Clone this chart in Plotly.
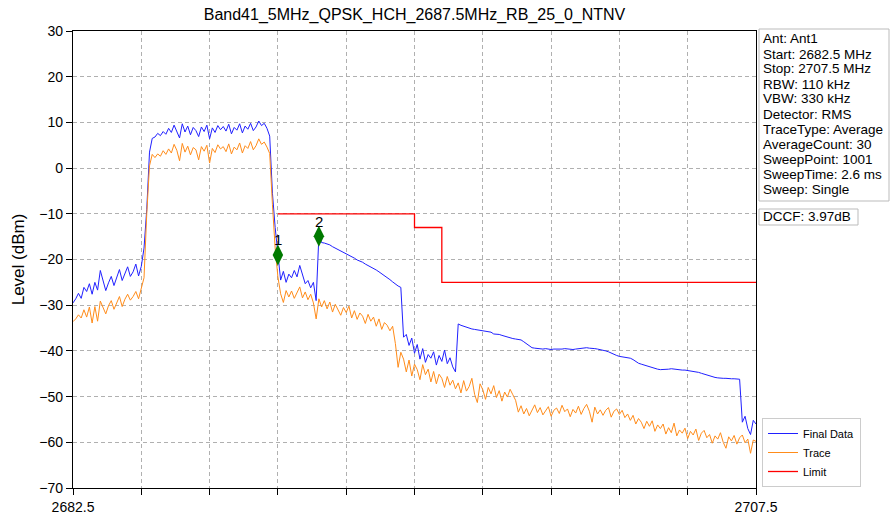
import numpy as np
import plotly.graph_objects as go

title_text = "Band41_5MHz_QPSK_HCH_2687.5MHz_RB_25_0_NTNV"
start_mhz = 2682.5
step_mhz = 0.1

final_data = [
    -29.5, -28.6, -27.4, -28.5, -26.1, -27.0, -25.3, -27.6, -25.0, -26.7,
    -22.4, -24.9, -26.8, -25.1, -23.7, -25.7, -24.1, -22.2, -24.6, -23.1,
    -21.6, -23.7, -22.7, -21.0, -23.6, -21.5,
    -17.5, -9.0, 3.5, 6.5,
    6.8, 7.6, 7.1, 8.0, 7.4, 8.7, 7.8, 9.4, 8.1, 6.6,
    9.7, 7.9, 9.2, 7.3, 8.9, 8.2, 6.9, 9.0, 8.0, 9.4,
    6.4, 8.8, 7.8, 9.3, 8.4, 9.1, 8.1, 9.6, 7.5, 8.9,
    8.3, 9.7, 7.7, 9.2, 8.5, 9.8, 8.2, 9.0, 10.3, 9.3,
    9.8, 8.7, 7.0,
    -5.5, -13.0, -19.0,
    -24.5, -22.6, -25.0, -23.2, -24.0, -22.4, -23.8, -21.3, -23.5, -25.3,
    -24.6, -26.2, -25.0, -29.0,
    -14.9, -16.3, -16.4, -16.6, -16.8, -17.2, -17.5, -17.9, -18.2, -18.5,
    -18.8, -19.0, -19.4, -19.7, -20.1, -20.3, -20.6, -21.0, -21.3, -21.7,
    -22.0, -22.3, -22.7, -23.1, -23.5, -24.0, -24.4, -24.9, -25.4, -25.8,
    -26.1,
    -37.0, -36.4, -38.8, -37.2, -40.5, -38.6, -41.8, -39.5, -42.5, -40.8,
    -41.6, -40.2, -43.1, -41.0, -42.3, -39.8, -42.8, -41.5, -43.5, -44.6,
    -34.1, -34.4, -34.6, -34.8, -35.1, -35.2, -35.3, -35.4, -35.5, -35.6,
    -35.7, -35.8, -35.9, -36.3, -36.3, -36.4, -36.6, -36.8, -37.0, -37.1,
    -37.3, -37.4, -37.5, -37.6, -38.0, -38.5, -39.0, -39.3, -39.4, -39.5,
    -39.6, -39.6, -39.5, -39.6, -39.7, -39.6, -39.6, -39.7, -39.6, -39.5,
    -39.6, -39.6, -39.7, -39.6, -39.5, -39.4, -39.4, -39.3, -39.4, -39.4,
    -39.5, -39.6, -39.7, -39.8, -40.0, -40.2, -40.5, -40.8, -41.0, -41.2,
    -41.3, -41.4, -41.5, -41.6, -41.9, -42.3, -42.7, -42.9, -43.1, -43.3,
    -43.4, -43.6, -43.8, -44.0, -44.1, -44.1, -44.0, -44.0, -43.9, -44.0,
    -44.1, -44.1, -44.2, -44.2, -44.3, -44.4, -44.4, -44.5, -44.7, -44.9,
    -45.1, -45.3, -45.5, -45.7, -45.8, -45.9, -46.0, -46.0, -46.0, -46.1,
    -46.1, -46.1, -46.2, -46.2,
    -55.6, -54.3, -57.0, -58.3, -55.2, -56.0,
]

trace_data = [
    -33.6, -33.0, -32.1, -32.8, -31.0, -32.6, -30.4, -33.9, -30.3, -33.5,
    -29.1, -30.6, -31.9, -30.1, -29.0, -30.9, -29.6, -28.1, -30.3, -28.7,
    -27.6, -28.9, -28.1, -27.0, -28.6, -26.4,
    -24.0, -10.0, 0.5, 3.0,
    2.3, 3.1, 2.6, 3.8, 3.0, 4.2, 3.3, 5.2, 3.9, 1.6,
    5.4, 3.5, 4.8, 2.9, 4.5, 4.0, 1.8, 4.7, 3.7, 5.0,
    1.1, 4.3, 3.4, 5.1, 4.2, 4.7, 3.6, 5.3, 3.1, 4.6,
    4.0, 5.5, 3.3, 4.9, 4.3, 5.8, 4.0, 4.9, 6.4, 5.2,
    5.7, 4.6, 3.2,
    -8.0, -17.5, -23.8,
    -27.5, -29.4, -26.8, -28.2, -26.9, -28.5, -27.2, -26.0, -28.4, -27.1,
    -28.8, -27.6, -29.5, -33.0,
    -28.6, -30.4, -29.0, -30.8, -29.3, -31.5, -29.8, -30.9, -32.2, -30.5,
    -31.6, -30.2, -32.8, -31.2, -33.1, -31.7, -32.4, -34.0, -32.0, -33.5,
    -32.6, -34.6, -33.0, -35.3, -33.8, -34.4, -35.6,
    -34.6, -38.4, -43.6, -40.3,
    -41.8, -44.6, -42.0, -45.5, -42.9, -44.1, -46.3, -43.0, -45.2, -44.0,
    -46.8, -44.5, -47.2, -45.1, -46.0, -48.0, -45.6, -47.5, -46.4, -48.3,
    -47.0, -49.2, -46.5, -48.8, -47.8, -46.0, -49.5, -51.3, -47.2, -48.5,
    -50.6, -48.0, -49.4, -47.6, -50.2, -48.7, -51.0, -49.0, -50.1, -48.4,
    -49.6, -50.8,
    -53.4, -52.0, -53.8, -52.6, -54.2, -52.9, -51.8, -53.5, -52.4, -54.0,
    -53.1, -52.2, -54.3, -53.0, -52.5, -53.7, -51.9, -53.3, -52.7, -54.4,
    -52.8, -53.6, -52.1, -53.9, -52.6, -51.7, -53.2, -55.6, -52.3, -53.8,
    -52.9, -54.1, -53.0, -52.4, -54.5, -53.2, -52.7, -53.9,
    -53.0, -54.6, -53.8, -55.2, -54.1, -56.0, -54.8, -55.6, -57.0, -55.4,
    -56.5, -55.3, -57.6, -56.2, -57.0,
    -56.0, -58.2, -56.8, -57.9, -55.8, -58.6, -57.3, -58.0, -56.9, -59.2,
    -57.6, -58.4, -57.1, -59.6, -58.0, -57.4, -59.0, -58.3, -60.2, -58.6,
    -59.3, -57.9, -60.0, -61.3, -58.8, -59.7, -58.5, -60.4, -59.0, -58.4,
    -60.1, -59.3, -62.4, -59.5, -59.8,
]

limit_freq = [2690.0, 2695.0, 2695.0, 2696.0, 2696.0, 2707.5]
limit_level = [-10.0, -10.0, -13.0, -13.0, -25.0, -25.0]

marker_labels = ["1", "2"]
marker_index = [75, 90]

x_tick_vals = [2682.5, 2685.0, 2687.5, 2690.0, 2692.5, 2695.0, 2697.5, 2700.0, 2702.5, 2705.0, 2707.5]
x_tick_text = ["2682.5", "", "", "", "", "", "", "", "", "", "2707.5"]
y_tick_vals = [30, 20, 10, 0, -10, -20, -30, -40, -50, -60, -70]

info_lines = [
    "Ant: Ant1",
    "Start: 2682.5 MHz",
    "Stop: 2707.5 MHz",
    "RBW: 110 kHz",
    "VBW: 330 kHz",
    "Detector: RMS",
    "TraceType: Average",
    "AverageCount: 30",
    "SweepPoint: 1001",
    "SweepTime: 2.6 ms",
    "Sweep: Single",
]
dccf_text = "DCCF: 3.97dB"

freq_final = start_mhz + step_mhz * np.arange(len(final_data))
freq_trace = start_mhz + step_mhz * np.arange(len(trace_data))

FONT = "Liberation Sans, Arial, sans-serif"
W, H = 891, 519
L, R, T, B = 73, 756, 31, 488


def px(xp):
    return (xp - L) / (R - L)


def py(yp):
    return (B - yp) / (B - T)


fig = go.Figure()
fig.add_trace(go.Scatter(x=freq_final, y=final_data, mode="lines", name="Final Data",
                         line=dict(color="#2020ff", width=1)))
fig.add_trace(go.Scatter(x=freq_trace, y=trace_data, mode="lines", name="Trace",
                         line=dict(color="#ff8c1a", width=1)))
fig.add_trace(go.Scatter(x=limit_freq, y=limit_level, mode="lines", name="Limit",
                         line=dict(color="#ff0000", width=1.3)))

mx = [float(freq_final[i]) for i in marker_index]
my = [final_data[i] for i in marker_index]
fig.add_trace(go.Scatter(x=mx, y=my, mode="markers", showlegend=False,
                         marker=dict(symbol="diamond-tall", size=15, color="#007a00",
                                     line=dict(width=0))))
for lab, xv, yv in zip(marker_labels, mx, my):
    fig.add_annotation(x=xv, y=yv, text=lab, showarrow=False, yshift=15,
                       font=dict(family=FONT, size=15, color="black"))

# info box
line_y0 = 39
for k, t in enumerate(info_lines):
    fig.add_annotation(xref="paper", yref="paper", x=px(761), y=py(line_y0 + 15 * k),
                       text=t, showarrow=False, xanchor="left", yanchor="middle",
                       font=dict(family=FONT, size=13.5, color="black"))
fig.add_shape(type="rect", xref="paper", yref="paper", x0=px(759), x1=px(889),
              y0=py(29), y1=py(201), line=dict(color="#bbbbbb", width=1), fillcolor="rgba(0,0,0,0)")
fig.add_annotation(xref="paper", yref="paper", x=px(761), y=py(217), text=dccf_text,
                   showarrow=False, xanchor="left", yanchor="middle",
                   font=dict(family=FONT, size=13.5, color="black"))
fig.add_shape(type="rect", xref="paper", yref="paper", x0=px(759), x1=px(858),
              y0=py(209), y1=py(225), line=dict(color="#bbbbbb", width=1), fillcolor="rgba(0,0,0,0)")

fig.update_layout(
    width=W, height=H,
    margin=dict(l=L, r=W - R, t=T, b=H - B, pad=0, autoexpand=False),
    paper_bgcolor="white", plot_bgcolor="white",
    font=dict(family=FONT, color="black"),
    title=dict(text=title_text, x=0.5, xref="paper", xanchor="center",
               y=(H - 14) / H, yanchor="middle", font=dict(family=FONT, size=16, color="black")),
    legend=dict(x=px(762), y=py(487), xanchor="left", yanchor="bottom",
                bgcolor="white", bordercolor="#cccccc", borderwidth=1,
                font=dict(family=FONT, size=11, color="black"), tracegroupgap=0),
    showlegend=True,
)
fig.update_xaxes(range=[2682.5, 2707.5], tickmode="array", tickvals=x_tick_vals, ticktext=x_tick_text,
                 ticks="outside", ticklen=6, tickcolor="black", tickwidth=1, automargin=False,
                 showgrid=True, gridcolor="#b0b0b0", griddash="4px,3px", gridwidth=1,
                 showline=True, linecolor="black", linewidth=1.2, mirror=True, zeroline=False,
                 tickfont=dict(family=FONT, size=14, color="black"))
fig.update_yaxes(range=[-70, 30], tickmode="array", tickvals=y_tick_vals,
                 ticks="outside", ticklen=6, tickcolor="black", tickwidth=1, automargin=False,
                 showgrid=True, gridcolor="#b0b0b0", griddash="4px,3px", gridwidth=1,
                 showline=True, linecolor="black", linewidth=1.2, mirror=True, zeroline=False,
                 tickfont=dict(family=FONT, size=14, color="black"),
                 title=dict(text="Level (dBm)", font=dict(family=FONT, size=17, color="black"), standoff=10))

fig.write_html("out.html", config={"displayModeBar": False},
               post_script="document.body.style.margin='0';document.body.style.overflow='hidden';")
